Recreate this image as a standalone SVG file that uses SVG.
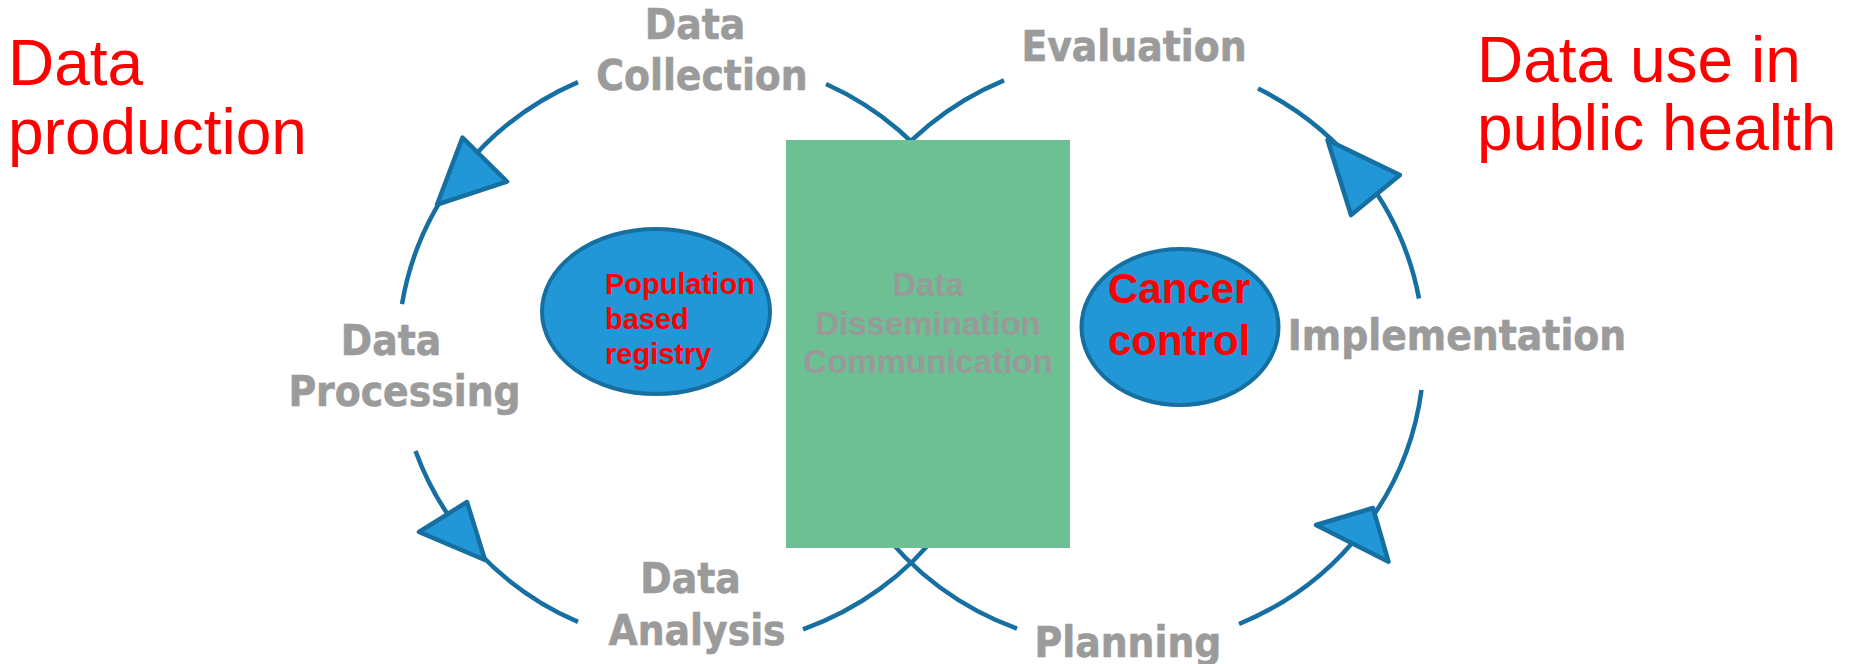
<svg xmlns="http://www.w3.org/2000/svg" width="1851" height="664" viewBox="0 0 1851 664">
  <style>
    .loop { fill: none; stroke: #166fa1; stroke-width: 4.5; stroke-linecap: butt; }
    .head { fill: #2197d7; stroke: #166fa1; stroke-width: 4.5; stroke-linejoin: round; }
    .step { font-family: "DejaVu Sans Condensed", "DejaVu Sans", sans-serif; font-stretch: condensed; font-weight: bold; font-size: 42px; fill: #9b9b9b; stroke: #9b9b9b; stroke-width: 0.6; }
    .title { font-family: "Liberation Sans", Arial, sans-serif; font-size: 64px; fill: #ff0000; }
    .hub { fill: #2197d7; stroke: #166fa1; stroke-width: 4; }
    .hubtext { font-family: "Liberation Sans", Arial, sans-serif; font-weight: bold; fill: #ff0000; }
    .centertext { font-family: "Liberation Sans", Arial, sans-serif; font-weight: bold; font-size: 33px; fill: #999999; text-anchor: middle; }
  </style>

  <rect width="1851" height="664" fill="#ffffff"/>

  <!-- figure-eight cycle: two elliptical loops crossing behind the central box -->
  <g id="connectors">
    <!-- left loop: data production -->
    <path class="loop" d="M578,82.1 A302,295 0 0 0 402,304.1"/>
    <path class="loop" d="M415.5,451 A302,295 0 0 0 578,621.9"/>
    <path class="loop" d="M803,629.3 A302,295 0 0 0 826,84"/>
    <!-- right loop: data use -->
    <path class="loop" d="M1017,628.6 A302,295 0 0 1 1004,80.4"/>
    <path class="loop" d="M1239,624 A302,295 0 0 0 1421.5,390"/>
    <path class="loop" d="M1419,298.5 A302,295 0 0 0 1258,88.6"/>
    <!-- arrowheads -->
    <polygon class="head" points="462.5,137.5 507,181.7 437,204.7"/>
    <polygon class="head" points="419,532 467,502 485,560"/>
    <polygon class="head" points="1327.5,140 1400,175 1351,215"/>
    <polygon class="head" points="1316,525 1373,508 1388.5,561.7"/>
  </g>

  <!-- central dissemination box -->
  <g id="node-dissemination">
    <rect x="786" y="140" width="284" height="408" fill="#6dbf94"/>
    <text class="centertext" x="928" y="296">Data</text>
    <text class="centertext" x="928" y="335">Dissemination</text>
    <text class="centertext" x="928" y="373">Communication</text>
  </g>

  <g id="node-registry">
    <ellipse class="hub" cx="656" cy="311.5" rx="114" ry="82.5"/>
    <text class="hubtext" font-size="29" x="605" y="294">Population</text>
    <text class="hubtext" font-size="29" x="605" y="329">based</text>
    <text class="hubtext" font-size="29" x="605" y="364">registry</text>
  </g>

  <g id="node-cancer-control">
    <ellipse class="hub" cx="1180" cy="327" rx="98.5" ry="78"/>
    <text class="hubtext" font-size="42" x="1108" y="303">Cancer</text>
    <text class="hubtext" font-size="42" x="1108" y="355">control</text>
  </g>

  <!-- cycle stages -->
  <g id="node-collection">
    <text class="step" x="695" y="39" text-anchor="middle">Data</text>
    <text class="step" x="702" y="90" text-anchor="middle">Collection</text>
  </g>
  <g id="node-processing">
    <text class="step" x="391" y="355" text-anchor="middle">Data</text>
    <text class="step" x="404.5" y="406" text-anchor="middle">Processing</text>
  </g>
  <g id="node-analysis">
    <text class="step" x="690.5" y="593" text-anchor="middle">Data</text>
    <text class="step" x="697" y="645" text-anchor="middle">Analysis</text>
  </g>
  <g id="node-evaluation">
    <text class="step" x="1134" y="61" text-anchor="middle">Evaluation</text>
  </g>
  <g id="node-implementation">
    <text class="step" x="1457" y="350" text-anchor="middle">Implementation</text>
  </g>
  <g id="node-planning">
    <text class="step" x="1128" y="657" text-anchor="middle">Planning</text>
  </g>

  <!-- side headings -->
  <g id="node-production-heading">
    <text class="title" x="8" y="85">Data</text>
    <text class="title" x="8" y="154">production</text>
  </g>
  <g id="node-use-heading">
    <text class="title" x="1477" y="82">Data use in</text>
    <text class="title" x="1477" y="150">public health</text>
  </g>
</svg>
